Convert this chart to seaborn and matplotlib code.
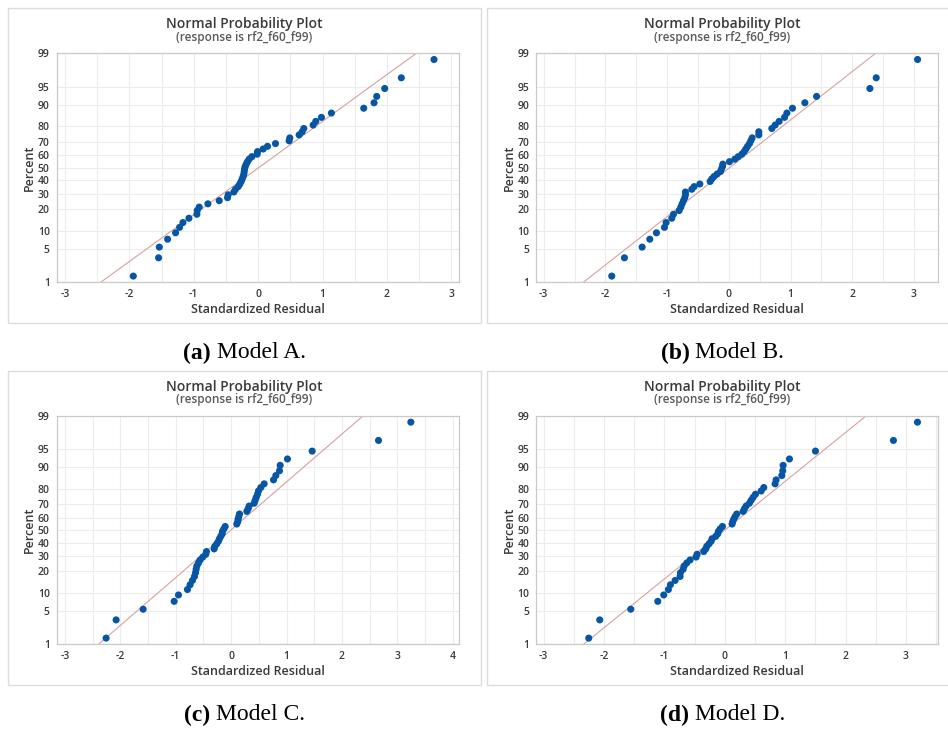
import matplotlib
matplotlib.use("Agg")
import matplotlib.pyplot as plt
from matplotlib.patches import Rectangle
from matplotlib.ticker import MultipleLocator
import numpy as np
import pandas as pd
import seaborn as sns
from statistics import NormalDist

# Standardized residuals of the four models (sorted, n = 50 each)
resid_a = [-1.940, -1.547, -1.536, -1.407, -1.283, -1.221, -1.169, -1.076, -0.952, -0.947,
           -0.916, -0.781, -0.605, -0.476, -0.466, -0.378, -0.352, -0.310, -0.285, -0.264,
           -0.248, -0.233, -0.222, -0.217, -0.212, -0.202, -0.186, -0.166, -0.140, -0.098,
           -0.016, -0.010, 0.078, 0.145, 0.269, 0.481, 0.491, 0.636, 0.683, 0.709,
           0.854, 0.895, 0.983, 1.138, 1.640, 1.800, 1.842, 1.966, 2.224, 2.732]
resid_b = [-1.897, -1.692, -1.405, -1.281, -1.173, -1.043, -1.016, -0.924, -0.897, -0.805,
           -0.778, -0.757, -0.735, -0.714, -0.703, -0.703, -0.600, -0.562, -0.470, -0.303,
           -0.276, -0.238, -0.189, -0.135, -0.119, -0.103, -0.097, 0.011, 0.097, 0.151,
           0.211, 0.249, 0.276, 0.303, 0.335, 0.357, 0.378, 0.486, 0.486, 0.697,
           0.751, 0.816, 0.903, 0.941, 1.032, 1.232, 1.422, 2.286, 2.389, 3.059]
resid_c = [-2.258, -2.077, -1.589, -1.029, -0.951, -0.789, -0.741, -0.698, -0.662, -0.644,
           -0.632, -0.620, -0.590, -0.560, -0.512, -0.458, -0.446, -0.307, -0.295, -0.259,
           -0.229, -0.211, -0.187, -0.163, -0.157, -0.132, -0.108, 0.102, 0.120, 0.126,
           0.138, 0.151, 0.283, 0.307, 0.325, 0.415, 0.433, 0.452, 0.476, 0.494,
           0.536, 0.596, 0.765, 0.807, 0.873, 0.885, 1.017, 1.463, 2.661, 3.245]
resid_d = [-2.252, -2.070, -1.556, -1.109, -1.010, -0.933, -0.900, -0.822, -0.740, -0.734,
           -0.690, -0.673, -0.629, -0.574, -0.475, -0.458, -0.348, -0.315, -0.298, -0.259,
           -0.226, -0.210, -0.149, -0.116, -0.105, -0.077, -0.039, 0.121, 0.132, 0.149,
           0.171, 0.199, 0.304, 0.326, 0.353, 0.408, 0.436, 0.469, 0.508, 0.602,
           0.646, 0.833, 0.850, 0.944, 0.960, 0.966, 1.071, 1.501, 2.792, 3.190]

# Fitted normal reference line (mean, sigma) for each model
fit_a = (0.005, 1.054)
fit_b = (0.010, 1.018)
fit_c = (-0.009, 1.026)
fit_d = (0.000, 1.005)

percent_ticks = [1, 5, 10, 20, 30, 40, 50, 60, 70, 80, 90, 95, 99]
x_ticks_a = [-3, -2, -1, 0, 1, 2, 3]
x_ticks_b = [-3, -2, -1, 0, 1, 2, 3]
x_ticks_c = [-3, -2, -1, 0, 1, 2, 3, 4]
x_ticks_d = [-3, -2, -1, 0, 1, 2, 3]

caption_tags = ["(a)", "(b)", "(c)", "(d)"]
caption_texts = ["Model A.", "Model B.", "Model C.", "Model D."]

TITLE = "Normal Probability Plot"
SUBTITLE = "(response is rf2_f60_f99)"
XLABEL = "Standardized Residual"
YLABEL = "Percent"

W, H = 948, 731
sns.set_theme(style="white")
plt.rcParams["font.family"] = ["Open Sans", "DejaVu Sans"]

fig = plt.figure(figsize=(W / 100, H / 100), dpi=100)
fig.patch.set_facecolor("white")

nd = NormalDist()
probit = lambda p: nd.inv_cdf(p / 100.0)

BLUE = "#0656A5"
LINE = "#D9A0A0"
GRID = "#ECECEC"
SPINE = "#C9C9C9"
TEXT = "#3A3A3A"


def px_rect(left, top, right, bottom):
    return [left / W, 1 - bottom / H, (right - left) / W, (bottom - top) / H]


panels = [
    dict(resid=resid_a, fit=fit_a, xticks=x_ticks_a, xlim=(-3.13, 3.12),
         ax=(56.7, 53.3, 459.0, 282.3), box=(8, 8, 481, 323), cx=244.5, ty=24),
    dict(resid=resid_b, fit=fit_b, xticks=x_ticks_b, xlim=(-3.12, 3.39),
         ax=(536.3, 53.3, 938.0, 282.3), box=(487, 8, 960, 323), cx=722.5, ty=24),
    dict(resid=resid_c, fit=fit_c, xticks=x_ticks_c, xlim=(-3.15, 4.12),
         ax=(56.7, 416.0, 459.3, 644.3), box=(8, 371, 481, 685), cx=244.5, ty=387),
    dict(resid=resid_d, fit=fit_d, xticks=x_ticks_d, xlim=(-3.12, 3.53),
         ax=(536.3, 416.0, 938.0, 644.3), box=(487, 371, 960, 685), cx=722.5, ty=387),
]

for p in panels:
    l, t, r, b = p["box"]
    fig.patches.append(Rectangle((l / W, 1 - b / H), (r - l) / W, (b - t) / H,
                                 transform=fig.transFigure, fill=False,
                                 edgecolor="#DCDCDC", linewidth=1.0, zorder=0))

    ax = fig.add_axes(px_rect(*p["ax"]))
    ax.set_facecolor("white")

    resid = np.sort(np.asarray(p["resid"]))
    n = len(resid)
    rank = np.arange(1, n + 1)
    pct = (rank - 0.3) / (n + 0.4) * 100.0  # median-rank plotting positions
    df = pd.DataFrame({"resid": resid, "z": [probit(v) for v in pct]})

    mu, sigma = p["fit"]
    zl = [probit(1), probit(99)]
    line_df = pd.DataFrame({"x": [mu + sigma * z for z in zl], "z": zl})

    sns.lineplot(data=line_df, x="x", y="z", ax=ax, color=LINE, linewidth=0.8,
                 estimator=None, sort=False, zorder=2)
    sns.scatterplot(data=df, x="resid", y="z", ax=ax, color=BLUE, s=26,
                    edgecolor="none", linewidth=0, zorder=3)

    ax.set_xlim(*p["xlim"])
    ax.set_ylim(probit(1), probit(99))
    ax.set_xticks(p["xticks"])
    ax.xaxis.set_minor_locator(MultipleLocator(0.5))
    ax.set_yticks([probit(v) for v in percent_ticks])
    ax.set_yticklabels([str(v) for v in percent_ticks])
    ax.set_xticklabels([str(v) for v in p["xticks"]])
    for lab in ax.get_xticklabels() + ax.get_yticklabels():
        lab.set_fontweight("semibold")

    ax.grid(True, which="both", axis="x", color=GRID, linewidth=0.8)
    ax.grid(True, which="major", axis="y", color=GRID, linewidth=0.8)
    ax.set_axisbelow(True)

    for s in ax.spines.values():
        s.set_color(SPINE)
        s.set_linewidth(0.9)

    ax.tick_params(axis="both", which="major", direction="out", length=3, width=0.8,
                   color="#AAAAAA", labelsize=7.5, labelcolor=TEXT, pad=2)
    ax.tick_params(axis="x", which="minor", length=0)

    ax.set_xlabel(XLABEL, fontsize=9, fontweight="semibold", color=TEXT, labelpad=2)
    ax.set_ylabel(YLABEL, fontsize=9, fontweight="semibold", color=TEXT, labelpad=1)

    fig.text(p["cx"] / W, 1 - p["ty"] / H, TITLE, ha="center", va="center",
             fontsize=10, fontweight="semibold", color=TEXT)
    fig.text(p["cx"] / W, 1 - (p["ty"] + 13) / H, SUBTITLE, ha="center", va="center",
             fontsize=8.5, fontweight="semibold", color="#5A5A5A")

# Subfigure captions: bold tag followed by regular text, centred under each panel
cap_centers = [(244.5, 353), (722.5, 353), (244.5, 715), (722.5, 715)]
cap_font = ["Liberation Serif", "DejaVu Serif"]
renderer = fig.canvas.get_renderer()
for (cx, cy), tag, txt in zip(cap_centers, caption_tags, caption_texts):
    t1 = fig.text(0, 1 - cy / H, tag, family=cap_font, fontweight="bold",
                  fontsize=17, ha="left", va="center", color="black")
    t2 = fig.text(0, 1 - cy / H, txt, family=cap_font, fontsize=17,
                  ha="left", va="center", color="black")
    w1 = t1.get_window_extent(renderer).width
    w2 = t2.get_window_extent(renderer).width
    gap = 17 * 100 / 72 * 0.25
    left = cx - (w1 + gap + w2) / 2
    t1.set_x(left / W)
    t2.set_x((left + w1 + gap) / W)

fig.savefig("out.png", dpi=100, facecolor="white")
